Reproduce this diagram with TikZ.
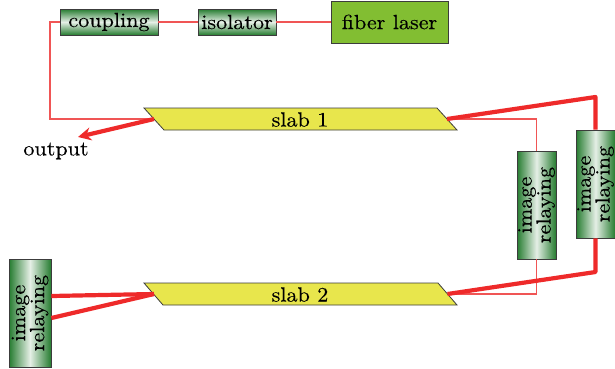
\documentclass[tikz,border=0pt]{standalone}
\usepackage{fontspec}
\setmainfont{lmroman10-regular.otf}[FakeStretch=1.08,FakeBold=0.3]
\usetikzlibrary{arrows.meta}
\definecolor{boxgreen}{RGB}{38,124,48}
\definecolor{lasergreen}{RGB}{130,190,50}
\definecolor{slabyellow}{RGB}{232,230,76}
\definecolor{edgegray}{RGB}{60,60,60}
\definecolor{beamred}{RGB}{238,42,42}
\definecolor{fiberred}{RGB}{240,85,85}
\tikzset{
  txt/.style={font=\fontsize{20.5}{19}\selectfont, inner sep=0pt},
  hbox/.style={txt, draw=edgegray, line width=0.8pt,
    top color=boxgreen, bottom color=boxgreen, middle color=white!88!boxgreen},
  vbox/.style={txt, draw=edgegray, line width=0.8pt,
    left color=boxgreen, right color=boxgreen, middle color=white!88!boxgreen,
    align=center, rotate=90, minimum width=108pt, minimum height=39pt},
  laserbox/.style={txt, draw=edgegray, line width=1pt, fill=lasergreen},
  slabshape/.style={draw=edgegray, line width=0.8pt, fill=slabyellow},
  fiber/.style={draw=fiberred, line width=1.1pt},
  beam/.style={draw=beamred, line width=4.2pt},
}
\begin{document}
\begin{tikzpicture}[x=1pt,y=-1pt]
\useasboundingbox (0,0) rectangle (615,368);

% fibre front end
\node[hbox, minimum width=98pt, minimum height=26pt] (coupling) at (109,22) {coupling};
\node[hbox, minimum width=78pt, minimum height=26pt] (isolator) at (237,22) {isolator};
\node[laserbox, minimum width=117pt, minimum height=42pt] (laser) at (389.5,22) {fiber laser};

% slabs (parallelograms) and their end-face tips
\draw[slabshape] (144,108) -- (437,108) -- (457,130) -- (164,130) -- cycle;
\node[txt] (slab1) at (300,119.5) {slab 1};
\coordinate (s1L) at (154,119);
\coordinate (s1R) at (447,119);

\draw[slabshape] (144,283) -- (438,283) -- (457,305) -- (163,305) -- cycle;
\node[txt] (slab2) at (300,294.5) {slab 2};
\coordinate (s2L) at (154,294);
\coordinate (s2R) at (447.5,294);

% image relaying optics (rotated: east = top, west = bottom, south = right)
\node[vbox] (relayA) at (536.5,205) {image\\relaying};
\node[vbox] (relayB) at (595.5,184) {image\\relaying};
\node[vbox, minimum height=42pt] (relayC) at (30,313) {image\\relaying};

\node[txt] (output) at (56,151) {output};

% seed path through fibre components
\draw[fiber] (laser.west) -- (isolator.east);
\draw[fiber] (isolator.west) -- (coupling.east);
\draw[fiber] (coupling.west) -- (50,22) |- (s1L);
\draw[fiber] (s1R) -| (relayA.east);
\draw[fiber] (relayA.west) |- (s2R);

% amplified beam path
\coordinate (tr) at (595.5,97);
\coordinate (br) at (595.5,272);
\draw[beam, line join=round] (s1R) -- (tr) -- (relayB.east);
\draw[beam, line join=round] (relayB.west) -- (br) -- (s2R);
\draw[beam] ([yshift=17pt]relayC.south) -- (s2L);
\draw[beam] ([yshift=-5pt]relayC.south) -- (s2L);
\coordinate (outtip) at (78,137);
\draw[beam, -{Stealth[length=13pt,width=13pt]}] (s1L) -- (outtip);
\end{tikzpicture}
\end{document}
